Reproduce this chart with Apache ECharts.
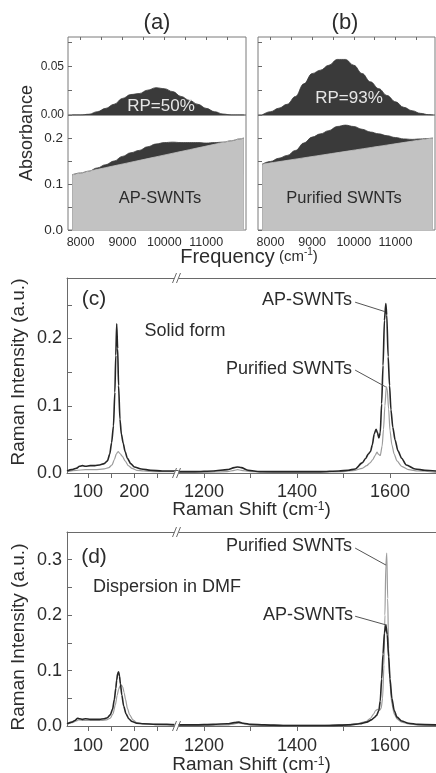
<!DOCTYPE html>
<html>
<head>
<meta charset="utf-8">
<script src="https://cdn.jsdelivr.net/npm/echarts@6/dist/echarts.min.js"></script>
<style>
  html, body { margin: 0; padding: 0; background: #ffffff; }
  #chart { width: 436px; height: 773px; }
</style>
</head>
<body>
<div id="chart"></div>
<script>
// ---------- NIR absorbance (S22 band region) ----------
const nirFreq = [7800, 8000, 8200, 8400, 8600, 8800, 9000, 9200, 9400, 9600, 9800,
                 10000, 10200, 10400, 10600, 10800, 11000, 11200, 11400, 11600, 11800, 11900];
// AP-SWNTs: band area above the linear background, and the measured spectrum
const apExcess = [0, 0, 0.0008, 0.0034, 0.0068, 0.011, 0.017, 0.021, 0.022, 0.0255, 0.028,
                  0.027, 0.024, 0.019, 0.015, 0.011, 0.0068, 0.0034, 0.001, 0, 0, 0];
const apAbsorb = [0.120, 0.124, 0.128, 0.135, 0.142, 0.150, 0.160, 0.168, 0.173, 0.181, 0.187,
                  0.190, 0.191, 0.190, 0.190, 0.190, 0.189, 0.190, 0.191, 0.194, 0.198, 0.200];
// Purified SWNTs
const purExcess = [0, 0.0034, 0.007, 0.011, 0.019, 0.032, 0.0425, 0.046, 0.051, 0.057, 0.057,
                   0.051, 0.0425, 0.034, 0.027, 0.020, 0.0136, 0.0079, 0.0044, 0.0017, 0.0003, 0];
const purAbsorb = [0.143, 0.149, 0.156, 0.162, 0.173, 0.189, 0.202, 0.209, 0.216, 0.225, 0.228,
                   0.225, 0.219, 0.213, 0.209, 0.205, 0.201, 0.198, 0.197, 0.198, 0.199, 0.200];
// linear background lines (end points)
const backFreq = [7800, 11900];
const apBack = [0.120, 0.200];
const purBack = [0.143, 0.200];

// ---------- Raman, solid form ----------
const solidRbmApX = [55, 65, 75, 82, 88, 95, 105, 115, 125, 135, 142, 147, 151, 155, 158, 160, 162, 164, 166, 169,
                     172, 176, 180, 185, 192, 200, 215, 235, 260, 295];
const solidRbmApY = [0.003, 0.005, 0.007, 0.010, 0.011, 0.010, 0.011, 0.011, 0.012, 0.014, 0.018, 0.028, 0.045, 0.070, 0.120, 0.175, 0.222, 0.185, 0.130, 0.080,
                     0.058, 0.044, 0.032, 0.022, 0.014, 0.009, 0.006, 0.004, 0.003, 0.003];
const solidRbmPurX = [55, 75, 95, 115, 135, 145, 152, 157, 161, 165, 169, 174, 180, 187, 195, 205, 220, 245, 295];
const solidRbmPurY = [0.002, 0.004, 0.005, 0.005, 0.006, 0.008, 0.012, 0.020, 0.028, 0.032, 0.029, 0.025, 0.018, 0.011, 0.007, 0.004, 0.003, 0.002, 0.002];

const solidGApX = [1145, 1180, 1220, 1250, 1265, 1272, 1280, 1295, 1320, 1360, 1400, 1450, 1490, 1510, 1525, 1540, 1548, 1553, 1558, 1562,
                   1566, 1570, 1573, 1576, 1579, 1582, 1585, 1588, 1591, 1593, 1596, 1599, 1602, 1606, 1611, 1617, 1625, 1635, 1654, 1675, 1700];
const solidGApY = [0.002, 0.002, 0.003, 0.005, 0.008, 0.009, 0.008, 0.004, 0.002, 0.002, 0.002, 0.002, 0.003, 0.004, 0.006, 0.015, 0.022, 0.028, 0.032, 0.042,
                   0.058, 0.065, 0.060, 0.052, 0.060, 0.103, 0.160, 0.227, 0.252, 0.235, 0.173, 0.130, 0.094, 0.068, 0.049, 0.033, 0.022, 0.012, 0.006, 0.004, 0.003];
const solidGPurX = [1145, 1200, 1250, 1265, 1272, 1280, 1300, 1350, 1400, 1450, 1500, 1525, 1540, 1550, 1557, 1563, 1568, 1572, 1575, 1579,
                    1583, 1586, 1589, 1592, 1594, 1597, 1600, 1604, 1609, 1615, 1625, 1640, 1660, 1700];
const solidGPurY = [0.001, 0.001, 0.002, 0.004, 0.005, 0.004, 0.002, 0.001, 0.001, 0.001, 0.002, 0.004, 0.007, 0.011, 0.015, 0.020, 0.026, 0.031, 0.028, 0.026,
                    0.040, 0.065, 0.100, 0.128, 0.125, 0.095, 0.063, 0.042, 0.028, 0.018, 0.010, 0.005, 0.003, 0.001];

// ---------- Raman, dispersion in DMF ----------
const dmfRbmApX = [55, 65, 72, 78, 82, 88, 95, 105, 115, 125, 135, 142, 148, 153, 157, 160, 162, 164, 166, 168,
                   170, 173, 177, 182, 188, 195, 205, 220, 245, 270, 295];
const dmfRbmApY = [0.004, 0.007, 0.010, 0.014, 0.013, 0.012, 0.013, 0.012, 0.012, 0.012, 0.013, 0.015, 0.020, 0.030, 0.048, 0.068, 0.083, 0.094, 0.098, 0.090,
                   0.076, 0.056, 0.036, 0.022, 0.013, 0.008, 0.005, 0.004, 0.003, 0.003, 0.002];
const dmfRbmPurX = [55, 65, 75, 80, 90, 100, 115, 130, 140, 148, 154, 159, 163, 166, 169, 172, 175, 178, 181, 185,
                    190, 197, 205, 220, 245, 295];
const dmfRbmPurY = [0.003, 0.006, 0.009, 0.011, 0.010, 0.010, 0.010, 0.010, 0.011, 0.014, 0.022, 0.038, 0.055, 0.066, 0.072, 0.074, 0.070, 0.060, 0.048, 0.032,
                    0.020, 0.011, 0.006, 0.004, 0.003, 0.002];

const dmfGApX = [1145, 1180, 1220, 1250, 1265, 1275, 1285, 1300, 1330, 1370, 1420, 1470, 1510, 1535, 1550, 1560, 1566, 1571, 1576, 1579,
                 1582, 1585, 1588, 1591, 1594, 1597, 1600, 1604, 1609, 1615, 1625, 1640, 1660, 1700];
const dmfGApY = [0.002, 0.002, 0.003, 0.004, 0.006, 0.007, 0.005, 0.003, 0.002, 0.001, 0.001, 0.001, 0.002, 0.004, 0.007, 0.011, 0.015, 0.019, 0.028, 0.045,
                 0.085, 0.130, 0.168, 0.182, 0.165, 0.125, 0.085, 0.050, 0.028, 0.016, 0.009, 0.005, 0.003, 0.002];
const dmfGPurX = [1145, 1200, 1250, 1265, 1275, 1285, 1300, 1350, 1400, 1450, 1500, 1530, 1548, 1558, 1565, 1569, 1573, 1577, 1581, 1584,
                  1587, 1589, 1591, 1593, 1595, 1597, 1600, 1604, 1609, 1615, 1625, 1640, 1660, 1700];
const dmfGPurY = [0.001, 0.001, 0.002, 0.004, 0.005, 0.004, 0.002, 0.001, 0.001, 0.001, 0.002, 0.004, 0.008, 0.014, 0.022, 0.028, 0.030, 0.028, 0.032, 0.050,
                  0.110, 0.200, 0.290, 0.312, 0.230, 0.140, 0.075, 0.040, 0.022, 0.013, 0.007, 0.004, 0.002, 0.001];

// ---------- tick values ----------
const freqLabels = [8000, 9000, 10000, 11000];
const freqTicks = [8000, 8500, 9000, 9500, 10000, 10500, 11000, 11500];
const excessLabels = [0, 0.05];
const excessTicks = [0, 0.025, 0.05, 0.075];
const absLabels = [0, 0.1, 0.2];
const absTicks = [0, 0.05, 0.1, 0.15, 0.2];
const rbmLabels = [100, 200];
const rbmTicks = [100, 150, 200, 250];
const gLabels = [1200, 1400, 1600];
const gTicks = [1200, 1300, 1400, 1500, 1600];
const solidLabels = [0, 0.1, 0.2];
const solidTicks = [0, 0.05, 0.1, 0.15, 0.2, 0.25];
const dmfLabels = [0, 0.1, 0.2, 0.3];
const dmfTicks = [0, 0.05, 0.1, 0.15, 0.2, 0.25, 0.3];

// ---------- styling ----------
const FONT = '"Liberation Sans", Arial, sans-serif';
const AXIS = '#6a6a6a';
const TXT = '#2c2c2c';
const DARK = '#3a3a3a';
const LIGHT = '#c2c2c2';
const AP_LINE = '#262626';
const PUR_LINE = '#9c9c9c';

const pairs = (xs, ys) => xs.map((x, i) => [x, ys[i]]);

// grid boxes (pixels)
const boxes = [
  { left: 68, top: 37, width: 178, height: 78, show: true },      // 0 (a) band area
  { left: 68, top: 115, width: 178, height: 115, show: true },    // 1 (a) spectrum
  { left: 258, top: 37, width: 177, height: 78, show: true },     // 2 (b) band area
  { left: 258, top: 115, width: 177, height: 115, show: true },   // 3 (b) spectrum
  { left: 67, top: 278, width: 111.5, height: 195, show: false }, // 4 (c) RBM
  { left: 178.5, top: 278, width: 258, height: 195, show: false },// 5 (c) G
  { left: 67, top: 532, width: 111.5, height: 194, show: false }, // 6 (d) RBM
  { left: 178.5, top: 532, width: 258, height: 194, show: false } // 7 (d) G
];
const grid = boxes.map(b => ({
  left: b.left, top: b.top, width: b.width, height: b.height,
  show: b.show, borderColor: '#7a7a7a', borderWidth: 1, backgroundColor: 'transparent',
  containLabel: false, outerBoundsMode: 'none'
}));

function axis(gridIndex, min, max, c) {
  return {
    type: 'value', gridIndex, min, max, position: c.position,
    splitLine: { show: false },
    axisLine: { show: !!c.line, onZero: false, lineStyle: { color: AXIS, width: 1 } },
    axisTick: c.ticks
      ? { show: true, inside: !!c.inside, length: c.tickLen || 4, customValues: c.ticks, lineStyle: { color: AXIS, width: 1 } }
      : { show: false },
    axisLabel: c.labels
      ? { show: true, customValues: c.labels, formatter: c.fmt, fontSize: c.fontSize, fontFamily: FONT, color: TXT, margin: c.margin }
      : { show: false },
    minorTick: { show: false }
  };
}
const f1 = v => Number(v).toFixed(1);
const f2 = v => Number(v).toFixed(2);

const xAxis = [
  axis(0, 7700, 11950, { position: 'top', ticks: freqTicks, inside: true, tickLen: 3 }),
  axis(1, 7700, 11950, { position: 'bottom', ticks: freqTicks, inside: true, tickLen: 3, labels: freqLabels, fmt: v => String(v), fontSize: 12.5, margin: 6 }),
  axis(2, 7700, 11950, { position: 'top', ticks: freqTicks, inside: true, tickLen: 3 }),
  axis(3, 7700, 11950, { position: 'bottom', ticks: freqTicks, inside: true, tickLen: 3, labels: freqLabels, fmt: v => String(v), fontSize: 12.5, margin: 6 }),
  axis(4, 55, 295, { position: 'bottom', line: true, ticks: rbmTicks, tickLen: 5, labels: rbmLabels, fmt: v => String(v), fontSize: 18, margin: 10 }),
  axis(4, 55, 295, { position: 'top', line: true }),
  axis(5, 1145, 1700, { position: 'bottom', line: true, ticks: gTicks, tickLen: 5, labels: gLabels, fmt: v => String(v), fontSize: 18, margin: 10 }),
  axis(5, 1145, 1700, { position: 'top', line: true }),
  axis(6, 55, 295, { position: 'bottom', line: true, ticks: rbmTicks, tickLen: 5, labels: rbmLabels, fmt: v => String(v), fontSize: 18, margin: 11 }),
  axis(6, 55, 295, { position: 'top', line: true }),
  axis(7, 1145, 1700, { position: 'bottom', line: true, ticks: gTicks, tickLen: 5, labels: gLabels, fmt: v => String(v), fontSize: 18, margin: 11 }),
  axis(7, 1145, 1700, { position: 'top', line: true })
];

const yAxis = [
  axis(0, 0, 0.08, { position: 'left', ticks: excessTicks, inside: true, labels: excessLabels, fmt: f2, fontSize: 12, margin: 4 }),
  axis(1, 0, 0.25, { position: 'left', ticks: absTicks, inside: true, labels: absLabels, fmt: f1, fontSize: 13.5, margin: 5 }),
  axis(2, 0, 0.08, { position: 'left', ticks: excessTicks, inside: true }),
  axis(3, 0, 0.25, { position: 'left', ticks: absTicks, inside: true }),
  axis(4, 0, 0.29, { position: 'left', line: true, ticks: solidTicks, inside: true, tickLen: 5, labels: solidLabels, fmt: f1, fontSize: 18, margin: 5 }),
  axis(5, 0, 0.29, { position: 'right' }),
  axis(6, 0, 0.35, { position: 'left', line: true, ticks: dmfTicks, inside: true, tickLen: 5, labels: dmfLabels, fmt: f1, fontSize: 18, margin: 5 }),
  axis(7, 0, 0.35, { position: 'right' })
];

function area(xi, yi, xs, ys, color) {
  return {
    type: 'line', xAxisIndex: xi, yAxisIndex: yi, data: pairs(xs, ys),
    smooth: 0.4, smoothMonotone: 'x', symbol: 'none', showSymbol: false,
    lineStyle: { width: 0.8, color }, areaStyle: { color, opacity: 1, origin: 'start' },
    silent: true, animation: false
  };
}
function trace(xi, yi, xs, ys, color, width, extra) {
  return Object.assign({
    type: 'line', xAxisIndex: xi, yAxisIndex: yi, data: pairs(xs, ys),
    smooth: 0.25, smoothMonotone: 'x', symbol: 'none', showSymbol: false,
    lineStyle: { width, color }, silent: true, animation: false
  }, extra || {});
}
function leaders(segs) {
  return {
    silent: true, animation: false, symbol: ['none', 'none'],
    label: { show: false },
    lineStyle: { color: '#555555', width: 1, type: 'solid' },
    emphasis: { disabled: true },
    data: segs.map(s => [{ coord: s[0] }, { coord: s[1] }])
  };
}

const series = [
  area(0, 0, nirFreq, apExcess, DARK),
  area(1, 1, nirFreq, apAbsorb, DARK),
  area(1, 1, backFreq, apBack, LIGHT),
  area(2, 2, nirFreq, purExcess, DARK),
  area(3, 3, nirFreq, purAbsorb, DARK),
  area(3, 3, backFreq, purBack, LIGHT),

  trace(4, 4, solidRbmPurX, solidRbmPurY, PUR_LINE, 1.2),
  trace(4, 4, solidRbmApX, solidRbmApY, AP_LINE, 1.6),
  trace(6, 5, solidGPurX, solidGPurY, PUR_LINE, 1.2),
  trace(6, 5, solidGApX, solidGApY, AP_LINE, 1.6, {
    markLine: leaders([[[1525, 0.254], [1589, 0.240]], [[1525, 0.153], [1591, 0.128]]])
  }),

  trace(8, 6, dmfRbmPurX, dmfRbmPurY, PUR_LINE, 1.2),
  trace(8, 6, dmfRbmApX, dmfRbmApY, AP_LINE, 1.6),
  trace(10, 7, dmfGPurX, dmfGPurY, PUR_LINE, 1.2),
  trace(10, 7, dmfGApX, dmfGApY, AP_LINE, 1.6, {
    markLine: leaders([[[1525, 0.321], [1592, 0.290]], [[1525, 0.198], [1593, 0.182]]])
  })
];

// ---------- text and axis-break decorations ----------
function text(x, y, str, size, extra) {
  return {
    type: 'text', x, y, silent: true, z: 50,
    style: Object.assign({ text: str, fontSize: size, fontFamily: FONT, fill: TXT, align: 'center', verticalAlign: 'middle' }, extra || {})
  };
}
function vtext(x, y, str, size) {
  const t = text(x, y, str, size);
  t.rotation = Math.PI / 2;
  return t;
}
function breakMark(cx, cy) {
  return [
    { type: 'rect', silent: true, z: 60, shape: { x: cx - 4, y: cy - 2, width: 4, height: 4 }, style: { fill: '#ffffff' } },
    { type: 'line', silent: true, z: 61, shape: { x1: cx - 6, y1: cy + 5, x2: cx - 2, y2: cy - 5 }, style: { stroke: AXIS, lineWidth: 1 } },
    { type: 'line', silent: true, z: 61, shape: { x1: cx - 2, y1: cy + 5, x2: cx + 2, y2: cy - 5 }, style: { stroke: AXIS, lineWidth: 1 } }
  ];
}
const supRich = size => ({ sup: { fontSize: size, fontFamily: FONT, fill: TXT, verticalAlign: 'top' } });

const graphic = [
  text(157, 23, '(a)', 22),
  text(345, 23, '(b)', 22),
  text(161, 106, 'RP=50%', 17, { fill: '#e6e6e6' }),
  text(349, 98, 'RP=93%', 17, { fill: '#e6e6e6' }),
  text(160, 198, 'AP-SWNTs', 16.5),
  text(344, 198, 'Purified SWNTs', 16.5),
  vtext(27, 133, 'Absorbance', 18),
  text(249, 257, '{big|Frequency} (cm{sup|-1})', 15, {
    rich: Object.assign({ big: { fontSize: 20, fontFamily: FONT, fill: TXT } }, supRich(10))
  }),

  text(94, 299, '(c)', 21),
  text(185, 331, 'Solid form', 18),
  text(352, 300, 'AP-SWNTs', 18, { align: 'right' }),
  text(352, 369, 'Purified SWNTs', 18, { align: 'right' }),
  vtext(19, 372, 'Raman Intensity (a.u.)', 19),
  text(251.5, 510, 'Raman Shift (cm{sup|-1})', 19, { rich: supRich(12) }),

  text(94, 557, '(d)', 21),
  text(167, 587, 'Dispersion in DMF', 18),
  text(352, 546, 'Purified SWNTs', 18, { align: 'right' }),
  text(353, 615, 'AP-SWNTs', 18, { align: 'right' }),
  vtext(19, 637, 'Raman Intensity (a.u.)', 19),
  text(251.5, 765, 'Raman Shift (cm{sup|-1})', 19, { rich: supRich(12) })
].concat(
  breakMark(178.5, 473), breakMark(178.5, 278),
  breakMark(178.5, 726), breakMark(178.5, 532)
);

const chart = echarts.init(document.getElementById('chart'), null, { renderer: 'canvas' });
chart.setOption({
  animation: false,
  backgroundColor: '#ffffff',
  textStyle: { fontFamily: FONT },
  grid, xAxis, yAxis, series, graphic
});
</script>
</body>
</html>
